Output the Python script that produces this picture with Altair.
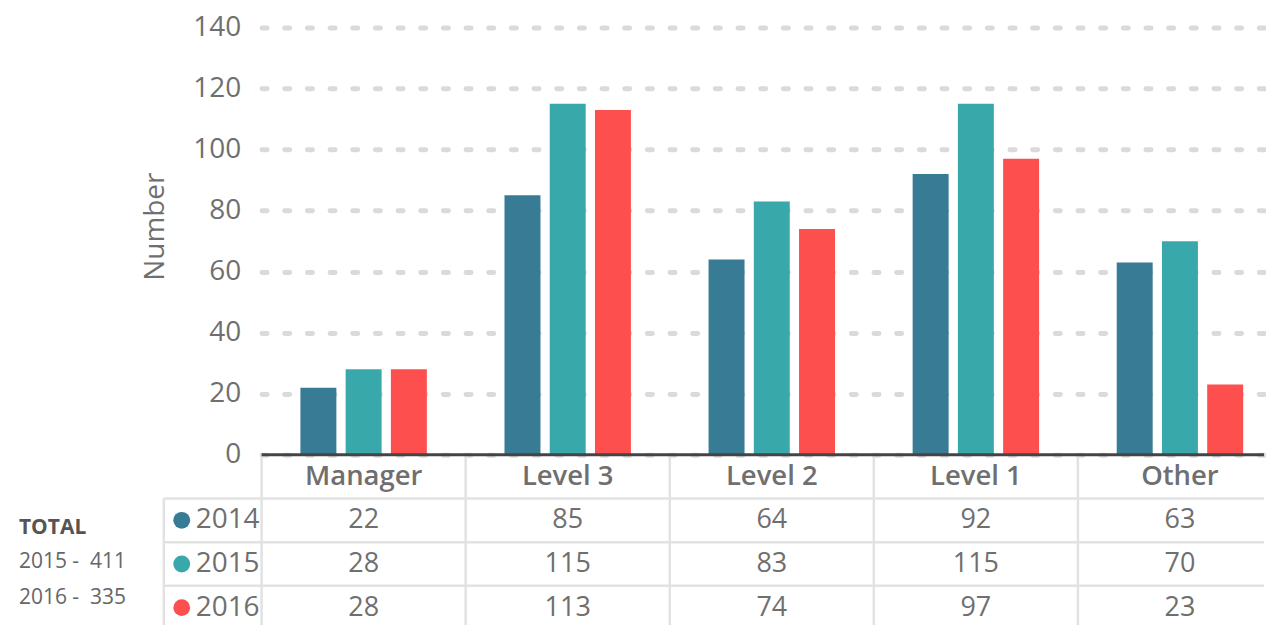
import altair as alt
import pandas as pd

categories = ["Manager", "Level 3", "Level 2", "Level 1", "Other"]
years = ["2014", "2015", "2016"]
values_2014 = [22, 85, 64, 92, 63]
values_2015 = [28, 115, 83, 115, 70]
values_2016 = [28, 113, 74, 97, 23]
colors = ["#377b94", "#38a8ab", "#fe4f4f"]
total_title = "TOTAL"
total_lines = ["2015 -\u00a0\u00a0411", "2016 -\u00a0\u00a0335"]
y_ticks = [0, 20, 40, 60, 80, 100, 120, 140]

rows = []
for yr, vals in zip(years, [values_2014, values_2015, values_2016]):
    for c, v in zip(categories, vals):
        rows.append({"category": c, "year": yr, "value": v})
df = pd.DataFrame(rows)
years_df = pd.DataFrame({"year": years})
header_df = pd.DataFrame({"category": categories, "row": ["header"] * len(categories)})

W = 1004          # visible plot width (to the page edge)
FULL = 1022       # width the five columns would need
H_TOP = 428
H_TAB = 175
FONT = "Open Sans"
GRAY = "#6f6f6f"
LINE = "#e2e2e2"

x_scale = alt.Scale(domain=categories, paddingInner=0, paddingOuter=0, range=[0, FULL])
color_scale = alt.Scale(domain=years, range=colors)

bars = alt.Chart(df).mark_bar().encode(
    x=alt.X("category:N", scale=x_scale, sort=categories, axis=None),
    xOffset=alt.XOffset("year:N", scale=alt.Scale(domain=years, paddingInner=0.205, paddingOuter=0.858)),
    y=alt.Y("value:Q", scale=alt.Scale(domain=[0, 140]),
            axis=alt.Axis(values=y_ticks, title="Number", domain=False, ticks=False,
                          labelFontSize=28, labelColor=GRAY, labelPadding=21, labelFont=FONT,
                          gridColor="#dadada", gridDash=[5, 17.7], gridWidth=5, gridCap="round",
                          titleFontSize=28, titleColor=GRAY, titleFontWeight="normal",
                          titleFont=FONT, titlePadding=23, titleY=199)),
    color=alt.Color("year:N", scale=color_scale, legend=None),
).properties(width=W, height=H_TOP)

row_order = ["header"] + years
y_tab = alt.Scale(domain=row_order, paddingInner=0, paddingOuter=0)

hlines = alt.Chart(years_df).mark_rule(color=LINE, strokeWidth=2.5).encode(
    y=alt.Y("year:N", scale=y_tab, bandPosition=0, axis=None),
    x=alt.value(-98), x2=alt.value(W),
)
vlines = alt.Chart(header_df).mark_rule(color=LINE, strokeWidth=2.5).encode(
    x=alt.X("category:N", scale=x_scale, sort=categories, bandPosition=0, axis=None),
    y=alt.value(0), y2=alt.value(H_TAB),
)
left_line = alt.Chart(years_df.head(1)).mark_rule(color=LINE, strokeWidth=2.5).encode(
    y=alt.Y("year:N", scale=y_tab, bandPosition=0, axis=None),
    y2=alt.value(H_TAB),
    x=alt.value(-98),
)
base_line = alt.Chart(header_df.head(1)).mark_rule(color="#444444", strokeWidth=3).encode(
    y=alt.value(0), x=alt.value(0), x2=alt.value(W),
)
header_text = alt.Chart(header_df).mark_text(
    font=FONT, fontSize=27.5, fontWeight=600, color=GRAY
).encode(
    x=alt.X("category:N", scale=x_scale, sort=categories, axis=None),
    y=alt.Y("row:N", scale=y_tab, axis=None),
    text="category:N",
)
value_text = alt.Chart(df).mark_text(font=FONT, fontSize=27, color=GRAY).encode(
    x=alt.X("category:N", scale=x_scale, sort=categories, axis=None),
    y=alt.Y("year:N", scale=y_tab, axis=None),
    text="value:Q",
)
row_labels = alt.Chart(years_df).mark_text(font=FONT, fontSize=28, color=GRAY, align="right").encode(
    y=alt.Y("year:N", scale=y_tab, axis=None),
    x=alt.value(-2),
    text="year:N",
)
dots = alt.Chart(years_df).mark_circle(size=284, opacity=1).encode(
    y=alt.Y("year:N", scale=y_tab, axis=None),
    x=alt.value(-80),
    color=alt.Color("year:N", scale=color_scale, legend=None),
)
tot_title = alt.Chart(pd.DataFrame({"t": [total_title]})).mark_text(
    font=FONT, fontSize=21, fontWeight="bold", color="#555555", align="left"
).encode(text="t:N", x=alt.value(-243), y=alt.value(73))
tot1 = alt.Chart(pd.DataFrame({"t": [total_lines[0]]})).mark_text(
    font=FONT, fontSize=21, color="#666666", align="left"
).encode(text="t:N", x=alt.value(-243), y=alt.value(107))
tot2 = alt.Chart(pd.DataFrame({"t": [total_lines[1]]})).mark_text(
    font=FONT, fontSize=21, color="#666666", align="left"
).encode(text="t:N", x=alt.value(-243), y=alt.value(143))

table = alt.layer(hlines, vlines, left_line, base_line, header_text, value_text, row_labels, dots,
                  tot_title, tot1, tot2).properties(width=W, height=H_TAB)

chart = alt.vconcat(bars, table, spacing=0, bounds="flush").resolve_scale(
    y="independent"
).properties(
    padding={"left": 11, "top": 5, "right": 0, "bottom": 0}
).configure(font=FONT).configure_view(stroke="transparent", strokeWidth=0)

chart.save("out.html", embed_options={"renderer": "svg", "actions": False})
